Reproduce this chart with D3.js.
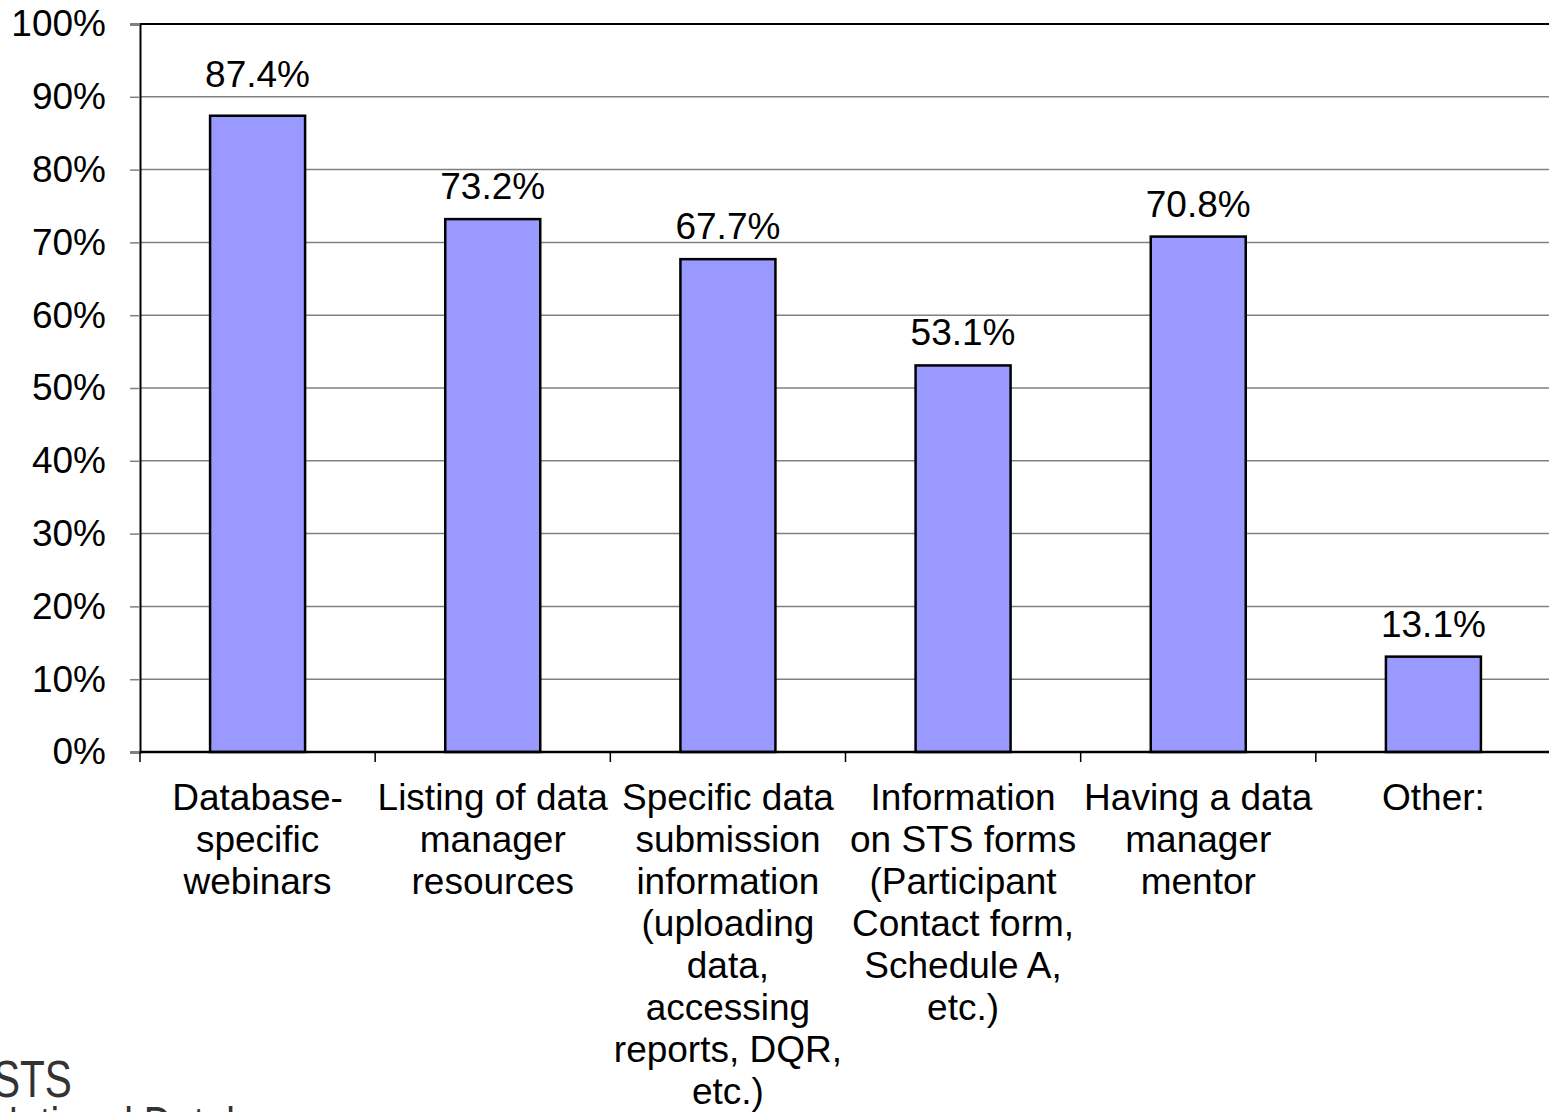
<!DOCTYPE html>
<html>
<head>
<meta charset="utf-8">
<script src="https://cdn.jsdelivr.net/npm/d3@7"></script>
<style>
  body { margin: 0; background: #fff; }
  svg { display: block; }
  text { font-family: "Liberation Sans", Arial, sans-serif; fill: #000; }
  .grid line { stroke: #808080; stroke-width: 1.5; }
  .bar { fill: #9999ff; stroke: #000; stroke-width: 2.5; }
</style>
</head>
<body>
<svg width="1549" height="1112"></svg>
<script>
const categories = [
  "Database-specific webinars",
  "Listing of data manager resources",
  "Specific data submission information",
  "Information on STS forms",
  "Having a data manager mentor",
  "Other:"
]

const categoryLines = [
  ["Database-", "specific", "webinars"],
  ["Listing of data", "manager", "resources"],
  ["Specific data", "submission", "information", "(uploading", "data,", "accessing", "reports, DQR,", "etc.)"],
  ["Information", "on STS forms", "(Participant", "Contact form,", "Schedule A,", "etc.)"],
  ["Having a data", "manager", "mentor"],
  ["Other:"]
]

const percents = [87.4, 73.2, 67.7, 53.1, 70.8, 13.1]

const yTicks = [0, 10, 20, 30, 40, 50, 60, 70, 80, 90, 100]

const svg = d3.select("svg")

const plotLeft = 140, plotRight = 1551, plotTop = 24, plotBottom = 752
const fontSize = 37

const x = d3.scaleBand()
  .domain(categories)
  .range([plotLeft, plotRight])
  .paddingInner(0.596)
  .paddingOuter(0.298)

const y = d3.scaleLinear()
  .domain([0, 100])
  .range([plotBottom, plotTop])

// gridlines
svg.append("g")
  .attr("class", "grid")
  .selectAll("line")
  .data(yTicks.filter(d => d > 0 && d < 100))
  .enter()
  .append("line")
  .attr("x1", plotLeft)
  .attr("x2", 1549)
  .attr("y1", d => y(d))
  .attr("y2", d => y(d))

// top border
svg.append("line")
  .attr("x1", plotLeft).attr("x2", 1549)
  .attr("y1", y(100)).attr("y2", y(100))
  .attr("stroke", "#000").attr("stroke-width", 2)

// y axis
const yAxis = svg.append("g")
  .attr("transform", `translate(${plotLeft},0)`)
  .call(d3.axisLeft(y).tickValues(yTicks).tickSize(10).tickPadding(24).tickFormat(d => d + "%"))

yAxis.select(".domain").attr("stroke", "#000").attr("stroke-width", 2)
yAxis.selectAll(".tick line").attr("stroke", "#808080").attr("stroke-width", 1.5)
yAxis.selectAll(".tick text")
  .attr("font-size", fontSize)
  .attr("font-family", "Liberation Sans, Arial, sans-serif")
  .attr("fill", "#000")

// bars
svg.selectAll("rect.bar")
  .data(percents)
  .enter()
  .append("rect")
  .attr("class", "bar")
  .attr("x", (d, i) => x(categories[i]))
  .attr("y", d => y(d))
  .attr("width", x.bandwidth())
  .attr("height", d => y(0) - y(d))

// value labels (the top one sits clear of the 90% gridline)
svg.selectAll("text.value")
  .data(percents)
  .enter()
  .append("text")
  .attr("class", "value")
  .attr("x", (d, i) => x(categories[i]) + x.bandwidth() / 2)
  .attr("y", d => d > 85 ? y(d) - 29 : y(d) - 20)
  .attr("text-anchor", "middle")
  .attr("font-size", fontSize)
  .text(d => d.toFixed(1) + "%")

// x axis line and ticks at category boundaries
svg.append("line")
  .attr("x1", plotLeft).attr("x2", 1549)
  .attr("y1", plotBottom).attr("y2", plotBottom)
  .attr("stroke", "#000").attr("stroke-width", 2.5)

const step = x.step()
svg.selectAll("line.xtick")
  .data(categories)
  .enter()
  .append("line")
  .attr("class", "xtick")
  .attr("x1", d => x(d) - step * x.paddingInner() / 2)
  .attr("x2", d => x(d) - step * x.paddingInner() / 2)
  .attr("y1", plotBottom)
  .attr("y2", plotBottom + 10)
  .attr("stroke", "#000")
  .attr("stroke-width", 1.5)

// category labels
const labelGroup = svg.selectAll("text.cat")
  .data(categoryLines)
  .enter()
  .append("text")
  .attr("class", "cat")
  .attr("text-anchor", "middle")
  .attr("font-size", fontSize)
  .attr("transform", (d, i) => `translate(${x(categories[i]) + x.bandwidth() / 2}, 810)`)

labelGroup.selectAll("tspan")
  .data(d => d)
  .enter()
  .append("tspan")
  .attr("x", 0)
  .attr("y", (d, i) => i * 42)
  .text(d => d)

// logo, bottom left (cut off by the page edge like the original)
const logo = svg.append("g")
  .attr("transform", "translate(-7,0) scale(0.78,1)")

logo.append("text")
  .attr("x", 0)
  .attr("y", 1097)
  .attr("font-family", "Roboto, sans-serif")
  .attr("font-size", 52)
  .style("fill", "#333")
  .text("STS")

logo.append("text")
  .attr("x", -4)
  .attr("y", 1142)
  .attr("font-family", "Roboto, sans-serif")
  .attr("font-size", 50)
  .style("fill", "#333")
  .text("National Database")
</script>
</body>
</html>
